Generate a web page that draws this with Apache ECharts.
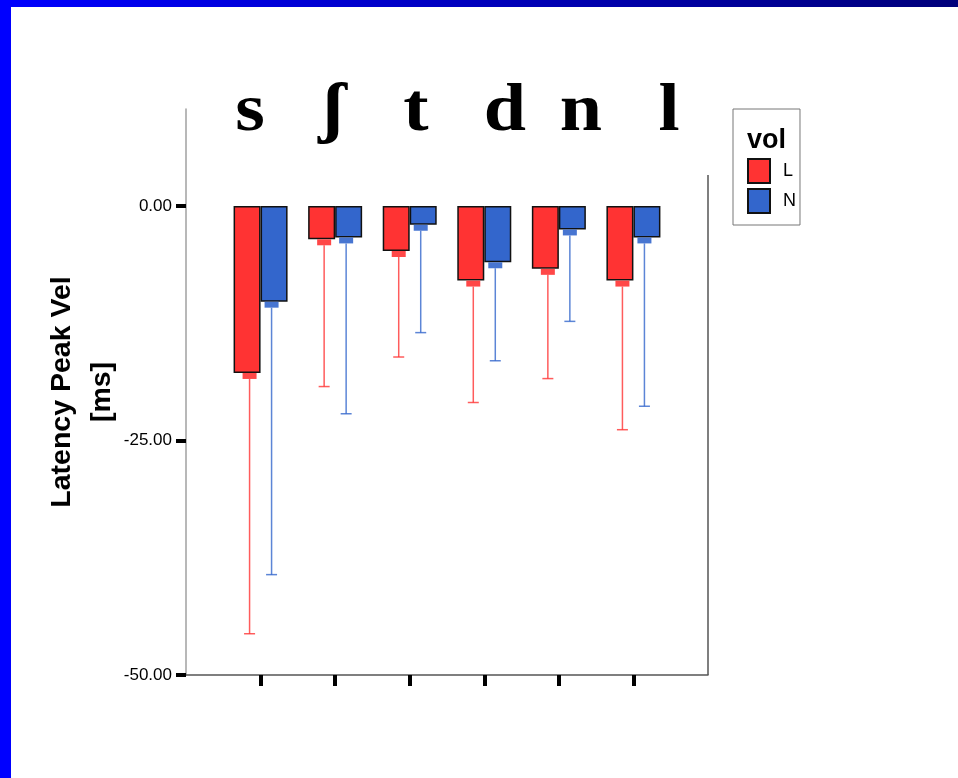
<!DOCTYPE html>
<html>
<head>
<meta charset="utf-8">
<script src="https://cdn.jsdelivr.net/npm/echarts@6/dist/echarts.min.js"></script>
<style>
  html, body { margin: 0; padding: 0; background: #fff; }
  #chart { width: 958px; height: 778px; }
</style>
</head>
<body>
<div id="chart"></div>
<script>
// categories (consonants) and the two groups of the "vol" factor
const categories = ['s', 'ʃ', 't', 'd', 'n', 'l'];
const groupNames = ['L', 'N'];
// bar heights (mean latency, ms)
const meanL = [-17.8, -3.55, -4.8, -7.95, -6.7, -7.95];
const meanN = [-10.2, -3.35, -2.0, -6.0, -2.5, -3.35];
// lower end of the error bars
const lowL = [-45.6, -19.25, -16.1, -20.95, -18.4, -23.85];
const lowN = [-39.3, -22.15, -13.5, -16.5, -12.3, -21.35];
// y tick values
const yTicks = [-50, -25, 0];

const colors = ['#ff3333', '#3366cc'];
const sans = 'Liberation Sans, Arial, sans-serif';

const chart = echarts.init(document.getElementById('chart'));

// pad the axis with an empty slot each side, like the original frame
const axisCats = [' '].concat(categories, ['  ']);
const lastSlot = categories.length + 1;
const frameTop = 3.3; // right edge of the frame starts lower than the y axis

const barData = (arr) => arr.map((v, i) => [i + 1, v]);
const errData = (means, lows) => means.map((v, i) => [i + 1, v, lows[i]]);

function errRenderer(k) {
  const off = k === 0 ? -11 : 11;
  return function (params, api) {
    const x = api.coord([api.value(0), 0])[0] + off;
    const yEnd = api.coord([api.value(0), api.value(1)])[1];
    const yLow = api.coord([api.value(0), api.value(2)])[1];
    const c = colors[k];
    return {
      type: 'group',
      children: [
        { type: 'rect', shape: { x: x - 7, y: yEnd, width: 14, height: 6 }, style: { fill: c, opacity: 0.9 } },
        { type: 'line', shape: { x1: x, y1: yEnd + 6, x2: x, y2: yLow }, style: { stroke: c, lineWidth: 1.5, opacity: 0.8 } },
        { type: 'line', shape: { x1: x - 5.5, y1: yLow, x2: x + 5.5, y2: yLow }, style: { stroke: c, lineWidth: 1.5, opacity: 0.8 } }
      ]
    };
  };
}

// header letters sit above the plot, not exactly over the bars
const headX = [250, 333, 416, 505, 581, 669];
const headers = categories.map((c, i) => ({
  type: 'text',
  x: headX[i],
  y: 112.5,
  scaleY: 0.9,
  style: {
    text: c,
    font: 'bold 76px "Liberation Serif", "Times New Roman", serif',
    fill: '#000',
    align: 'center',
    verticalAlign: 'middle'
  }
}));

const option = {
  animation: false,
  backgroundColor: '#fff',
  grid: { left: 186, right: 250, top: 109, bottom: 103 },
  legend: {
    data: groupNames,
    orient: 'vertical',
    left: 733,
    top: 109,
    padding: [49, 4, 11, 14],
    itemGap: 4,
    itemWidth: 22,
    itemHeight: 24,
    icon: 'rect',
    borderColor: '#777',
    borderWidth: 1,
    textStyle: { fontSize: 18, color: '#000', fontFamily: sans, padding: [0, 0, 0, 8] }
  },
  xAxis: {
    type: 'category',
    data: axisCats,
    boundaryGap: false,
    axisLine: { onZero: false, lineStyle: { color: '#555', width: 1.5 } },
    axisTick: {
      length: 11,
      interval: (i) => i > 0 && i <= categories.length,
      lineStyle: { color: '#000', width: 4 }
    },
    axisLabel: { show: false },
    splitLine: { show: false }
  },
  yAxis: {
    type: 'value',
    min: -50,
    max: 10.34,
    axisLine: { show: true, lineStyle: { color: '#a0a0a0', width: 1.5 } },
    axisTick: { show: true, length: 10, customValues: yTicks, lineStyle: { color: '#000', width: 4 } },
    axisLabel: {
      customValues: yTicks,
      margin: 14,
      fontSize: 17,
      color: '#000',
      fontFamily: sans,
      formatter: (v) => v.toFixed(2)
    },
    splitLine: { show: false }
  },
  series: [
    {
      name: groupNames[0], type: 'bar', data: barData(meanL),
      barWidth: 27, barGap: '0%',
      itemStyle: { color: colors[0], borderColor: '#111', borderWidth: 1.5 }
    },
    {
      name: groupNames[1], type: 'bar', data: barData(meanN),
      barWidth: 27, barGap: '0%',
      itemStyle: { color: colors[1], borderColor: '#111', borderWidth: 1.5 }
    },
    {
      name: 'L err', type: 'custom', data: errData(meanL, lowL), renderItem: errRenderer(0), clip: false, z: 3,
      markLine: {
        silent: true,
        symbol: 'none',
        label: { show: false },
        lineStyle: { color: '#555', width: 1.5, type: 'solid' },
        data: [[{ coord: [lastSlot, frameTop] }, { coord: [lastSlot, -50] }]]
      }
    },
    { name: 'N err', type: 'custom', data: errData(meanN, lowN), renderItem: errRenderer(1), clip: false, z: 3 }
  ],
  graphic: [
    {
      type: 'rect', shape: { x: 0, y: 0, width: 958, height: 7 },
      style: { fill: new echarts.graphic.LinearGradient(0, 0, 1, 0, [
        { offset: 0, color: '#0000ff' }, { offset: 1, color: '#00007a' }]) }
    },
    { type: 'rect', shape: { x: 0, y: 0, width: 11, height: 778 }, style: { fill: '#0000ff' } },
    {
      type: 'text', x: 82, y: 392, rotation: Math.PI / 2,
      style: {
        text: 'Latency Peak Vel\n[ms]',
        font: 'bold 28.5px ' + sans,
        lineHeight: 40,
        fill: '#000',
        align: 'center',
        verticalAlign: 'middle'
      }
    },
    {
      type: 'text', x: 747, y: 141,
      style: { text: 'vol', font: 'bold 27px ' + sans, fill: '#000', align: 'left', verticalAlign: 'middle' }
    }
  ].concat(headers)
};

chart.setOption(option);
</script>
</body>
</html>
